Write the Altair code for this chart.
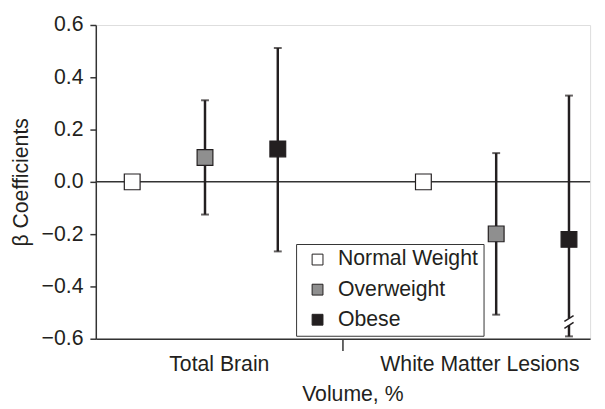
import altair as alt
import pandas as pd

# ---- data ----
groups = ["Total Brain", "White Matter Lesions"]
categories = ["Normal Weight", "Overweight", "Obese"]
beta_total_brain = [0.0, 0.093, 0.126]
lo_total_brain = [None, -0.125, -0.266]
hi_total_brain = [None, 0.312, 0.512]
beta_wml = [0.0, -0.199, -0.220]
lo_wml = [None, -0.508, -0.591]
hi_wml = [None, 0.110, 0.330]
# broken lower whisker of Obese / White Matter Lesions (gap between these values)
break_top = -0.522
break_bottom = -0.548
slash1 = [-0.534, -0.512]
slash2 = [-0.560, -0.537]

fills = ["#ffffff", "#8f8f8f", "#231f20"]
ink = "#231f20"
FONT = "Liberation Sans"
FS = 21.5

rows = []
for gi, (g, b, lo, hi) in enumerate(zip(groups,
                                          [beta_total_brain, beta_wml],
                                          [lo_total_brain, lo_wml],
                                          [hi_total_brain, hi_wml])):
    for ci, c in enumerate(categories):
        rows.append({"group": g, "cat": c, "x": gi * 4 + ci + 0.5,
                     "beta": b[ci], "lo": lo[ci], "hi": hi[ci]})
df = pd.DataFrame(rows)
err = df.dropna().copy()

# whisker segments (the broken one split in two)
segs = []
for _, r in err.iterrows():
    if r["group"] == "White Matter Lesions" and r["cat"] == "Obese":
        segs.append({"x": r["x"], "a": r["hi"], "b": break_top})
        segs.append({"x": r["x"], "a": break_bottom, "b": r["lo"]})
    else:
        segs.append({"x": r["x"], "a": r["hi"], "b": r["lo"]})
segs = pd.DataFrame(segs)

caps = pd.concat([
    err[["x", "hi"]].rename(columns={"hi": "y"}),
    err[["x", "lo"]].rename(columns={"lo": "y"}),
])

bx = df[(df.group == "White Matter Lesions") & (df.cat == "Obese")]["x"].iloc[0]
slashes = pd.DataFrame([
    {"s": 1, "x": bx - 0.063, "y": slash1[0]},
    {"s": 1, "x": bx + 0.063, "y": slash1[1]},
    {"s": 2, "x": bx - 0.063, "y": slash2[0]},
    {"s": 2, "x": bx + 0.063, "y": slash2[1]},
])

xscale = alt.Scale(domain=[0, 6.79], nice=False, zero=False)
yscale = alt.Scale(domain=[-0.6, 0.6], nice=False, zero=False)

tick_mid = 3.39
lab_tb = 1.69
lab_wml = 5.27

xaxis = alt.Axis(
    values=[lab_tb, tick_mid, lab_wml],
    labelExpr="datum.value < 2 ? 'Total Brain' : (datum.value > 5 ? 'White Matter Lesions' : '')",
    tickColor={"condition": {"test": "datum.value > 3 && datum.value < 4", "value": "#333333"},
               "value": "transparent"},
    tickSize=12, tickWidth=1.5, labelPadding=3, labelFontSize=FS, labelFont=FONT,
    labelColor=ink, labelLimit=400, labelOverlap=False,
    title="Volume, %", titleFontSize=FS, titleFont=FONT,
    titleFontWeight="normal", titleColor=ink, titlePadding=9, titleX=260,
    grid=False, domainColor="#333333", domainWidth=1.5,
)
yaxis = alt.Axis(
    values=[-0.6, -0.4, -0.2, 0.0, 0.2, 0.4, 0.6], format=".1f",
    tickSize=6, tickWidth=1.5, tickColor="#333333", labelPadding=7,
    labelFontSize=FS, labelFont=FONT, labelColor=ink,
    title="β Coefficients", titleFontSize=FS, titleFont=FONT,
    titleFontWeight="normal", titleColor=ink, titlePadding=9,
    grid=False, domainColor="#333333", domainWidth=1.5,
)

base_x = alt.X("x:Q", scale=xscale, axis=xaxis)

zero = alt.Chart(pd.DataFrame({"y": [0.0]})).mark_rule(
    color="#333333", strokeWidth=1.5
).encode(y=alt.Y("y:Q", scale=yscale, axis=yaxis))

whisk = alt.Chart(segs).mark_rule(color=ink, strokeWidth=2.5).encode(
    x=base_x, y=alt.Y("a:Q", scale=yscale), y2="b:Q")

capm = alt.Chart(caps).mark_tick(
    color=ink, orient="horizontal", size=8, thickness=2
).encode(x=base_x, y=alt.Y("y:Q", scale=yscale))

sl = alt.Chart(slashes).mark_line(color=ink, strokeWidth=1.5).encode(
    x=base_x, y=alt.Y("y:Q", scale=yscale), detail="s:N")

pts = alt.Chart(df).mark_square(
    size=256, stroke=ink, strokeWidth=1.2, opacity=1, filled=True
).encode(
    x=base_x,
    y=alt.Y("beta:Q", scale=yscale),
    fill=alt.Fill("cat:N", scale=alt.Scale(domain=categories, range=fills),
                  sort=categories,
                  legend=alt.Legend(
                      title=None, orient="none", legendX=203, legendY=222,
                      direction="vertical", symbolType="square", symbolSize=121,
                      symbolStrokeColor=ink, symbolStrokeWidth=1,
                      labelFontSize=FS, labelFont=FONT, labelColor=ink,
                      labelOffset=10, symbolOffset=6, rowPadding=7.5,
                      padding=5, strokeColor="#333333", fillColor="white",
                      labelLimit=300,
                  )),
)

chart = alt.layer(zero, whisk, capm, sl, pts).properties(
    width=501, height=318,
    padding={"left": 89, "top": 14.5, "right": 7, "bottom": 68.5},
    autosize=alt.AutoSizeParams(type="none"),
).configure_view(stroke=None).configure(background="white")

chart.save("out.html", embed_options={"renderer": "svg", "actions": False})
